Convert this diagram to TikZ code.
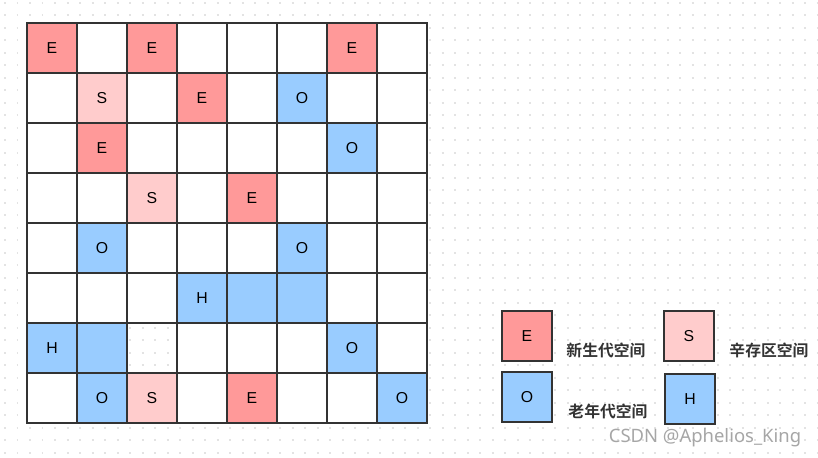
\documentclass[tikz,border=0pt]{standalone}
\usepackage{fontspec}
\setmainfont{Liberation Sans}
\newfontfamily\cjk{Noto Sans CJK SC}[BoldFont={Noto Sans CJK SC Bold}]
\newfontfamily\marksans{Noto Sans}
\usetikzlibrary{positioning}

\definecolor{edenred}{HTML}{FF9999}
\definecolor{survpink}{HTML}{FFCCCC}
\definecolor{oldblue}{HTML}{99CCFF}
\definecolor{cellline}{HTML}{333333}

\tikzset{
	cell/.style={rectangle, draw=cellline, thick, minimum size=1cm, inner sep=0pt, font=\small},
	eden/.style={cell, fill=edenred},
	surv/.style={cell, fill=survpink},
	old/.style={cell, fill=oldblue},
	hum/.style={cell, fill=oldblue},
	legtext/.style={font=\cjk\bfseries\small, text=black!80}
}

\begin{document}
\begin{tikzpicture}
	\useasboundingbox (0,0) rectangle (16.36,9.16);
	% Background dots
	\foreach \y in {0.1,0.35,...,9.1}
		\draw[gray!22, line width=0.04cm, dash pattern=on 0.04cm off 0.21cm] (0.08,\y) -- (16.36,\y);
	
	% Grid cells (one left open)
	\foreach \r in {0,...,7}
		\foreach \c in {0,...,7}{
			\ifnum\r\c=62
				\node[cell] (c-\r-\c) at ({1.04+\c},{8.2-\r}) {};
			\else
				\node[cell, fill=white] (c-\r-\c) at ({1.04+\c},{8.2-\r}) {};
			\fi
		}
	
	% Heap regions
	\foreach \r/\c/\k/\t in {0/0/eden/E, 0/2/eden/E, 0/6/eden/E,
		1/1/surv/S, 1/3/eden/E, 1/5/old/O,
		2/1/eden/E, 2/6/old/O,
		3/2/surv/S, 3/4/eden/E,
		4/1/old/O, 4/5/old/O,
		5/3/hum/H, 5/4/hum/, 5/5/hum/,
		6/0/hum/H, 6/1/hum/, 6/6/old/O,
		7/1/old/O, 7/2/surv/S, 7/4/eden/E, 7/7/old/O}
		\node[\k] (r-\r-\c) at ({1.04+\c},{8.2-\r}) {\t};
	
	% Legend
	\node[eden] (legE) at (10.54,2.44) {E};
	\node[surv] (legS) at (13.78,2.44) {S};
	\node[old] (legO) at (10.54,1.22) {O};
	\node[hum] (legH) at (13.80,1.18) {H};
	\node[legtext] (txtE) at (12.12,2.16) {新生代空间};
	\node[legtext] (txtS) at (15.38,2.16) {辛存区空间};
	\node[legtext] (txtO) at (12.16,0.94) {老年代空间};
	
	% Watermark
	\node[text=gray!70, font=\marksans\fontsize{10.5}{12}\selectfont] (mark) at (14.1,0.4) {CSDN @Aphelios\_King};
\end{tikzpicture}
\end{document}
